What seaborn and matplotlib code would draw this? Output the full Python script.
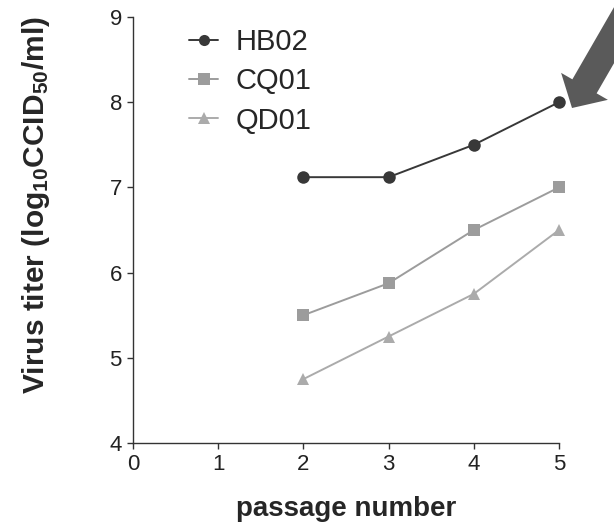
import matplotlib
matplotlib.use("Agg")
import matplotlib.pyplot as plt
from matplotlib.patches import FancyArrow
import seaborn as sns
import pandas as pd

passages = [2, 3, 4, 5]
hb02 = [7.12, 7.12, 7.5, 8.0]
cq01 = [5.5, 5.875, 6.5, 7.0]
qd01 = [4.75, 5.25, 5.75, 6.5]
strains = ["HB02", "CQ01", "QD01"]
x_ticks = [0, 1, 2, 3, 4, 5]
y_ticks = [4, 5, 6, 7, 8, 9]

df = pd.DataFrame({
    "passage": passages * 3,
    "titer": hb02 + cq01 + qd01,
    "strain": [s for s in strains for _ in passages],
})

sns.set_theme(style="ticks")
plt.rcParams["font.family"] = ["Liberation Sans", "DejaVu Sans"]
plt.rcParams["mathtext.fontset"] = "custom"
plt.rcParams["mathtext.rm"] = "Liberation Sans"
plt.rcParams["mathtext.bf"] = "Liberation Sans:bold"
plt.rcParams["mathtext.default"] = "bf"

fig = plt.figure(figsize=(6.14, 5.22), dpi=100)
ax = fig.add_axes([133 / 614, 1 - 443 / 522, (559 - 133) / 614, (443 - 17) / 522])

palette = {"HB02": "#383838", "CQ01": "#9c9c9c", "QD01": "#ababab"}
markers = {"HB02": "o", "CQ01": "s", "QD01": "^"}
sns.lineplot(data=df, x="passage", y="titer", hue="strain", style="strain",
             palette=palette, markers=markers, dashes=False, markersize=9,
             markeredgewidth=0, linewidth=1.4, ax=ax, clip_on=False)

ax.set_xlim(0, 5)
ax.set_ylim(4, 9)
ax.set_xticks(x_ticks)
ax.set_yticks(y_ticks)
ax.tick_params(axis="both", labelsize=16, length=4, width=1, color="#333333",
               labelcolor="#222222", pad=4)
for s in ["top", "right"]:
    ax.spines[s].set_visible(False)
for s in ["left", "bottom"]:
    ax.spines[s].set_color("#333333")
    ax.spines[s].set_linewidth(1)

ax.set_xlabel("passage number", fontsize=20, fontweight="bold")
ax.xaxis.set_label_coords(0.5, (443 - 522) / 426, transform=ax.transAxes)
ax.xaxis.label.set_verticalalignment("bottom")
ax.set_ylabel(r"Virus titer (log$_{10}$CCID$_{50}$/ml)",
              fontsize=21.5, fontweight="bold")
ax.yaxis.set_label_coords((52 - 133) / 426, (443 - 205) / 426)

leg = ax.legend(loc="upper left", bbox_to_anchor=(0.07, 1.035), frameon=False,
                fontsize=21, handlelength=1.0, handletextpad=0.6, labelspacing=0.38,
                title=None)
for h in leg.legend_handles:
    h.set_markersize(8)

# arrow pointing at HB02 passage 5 (figure inches)
arrow = FancyArrow(6.32, 5.18, -0.6, -1.04, width=0.28, head_width=0.54,
                   head_length=0.25, length_includes_head=True,
                   transform=fig.dpi_scale_trans, color="#5a5a5a", lw=0)
fig.add_artist(arrow)

fig.savefig("out.png", dpi=100)
